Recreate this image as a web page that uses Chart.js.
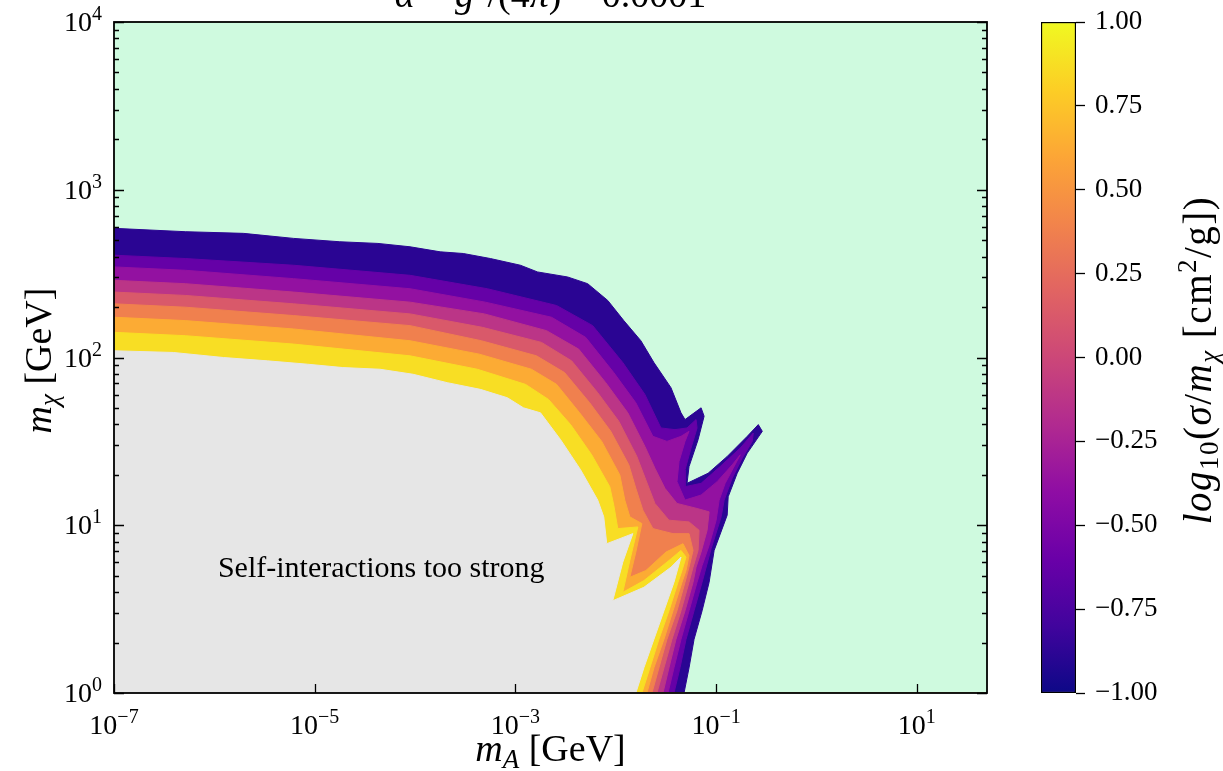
<!DOCTYPE html>
<html>
<head>
<meta charset="utf-8">
<script src="https://cdn.jsdelivr.net/npm/chart.js@4.4.1/dist/chart.umd.min.js"></script>
<style>
  html, body { margin: 0; padding: 0; background: #fff; }
  #wrap { position: relative; width: 1223px; height: 771px; overflow: hidden; }
  #main { position: absolute; left: 0; top: 0; }
  #cbar { position: absolute; left: 1000px; top: 0; }
</style>
</head>
<body>
<div id="wrap">
  <canvas id="main" width="1000" height="771"></canvas>
  <canvas id="cbar" width="223" height="771"></canvas>
</div>
<script>
// axis ranges and tick labels
const xRange = [1e-7, 50];          // m_A [GeV]
const yRange = [1, 1e4];            // m_chi [GeV]
const xTickExps = [-7, -5, -3, -1, 1];
const yTickExps = [0, 1, 2, 3, 4];
const cbarTicks = [-1, -0.75, -0.5, -0.25, 0, 0.25, 0.5, 0.75, 1];

// iso-lines of log10(sigma/m_chi) as [log10 mA, log10 mchi].
// each one runs from the left axis to the bottom axis; the area below/left of it
// is where sigma/m is larger than that level.
const isoM100 = [[-7.00,2.77],[-6.29,2.75],[-5.71,2.74],[-5.21,2.71],[-4.75,2.69],[-4.37,2.68],[-4.05,2.66],[-3.75,2.63],[-3.52,2.62],[-3.25,2.59],[-2.95,2.55],[-2.78,2.51],[-2.48,2.48],[-2.28,2.44],[-2.08,2.34],[-1.92,2.22],[-1.75,2.10],[-1.62,1.97],[-1.45,1.82],[-1.35,1.67],[-1.31,1.63],[-1.15,1.70],[-1.12,1.65],[-1.18,1.51],[-1.27,1.35],[-1.29,1.25],[-1.08,1.31],[-0.89,1.41],[-0.69,1.53],[-0.58,1.60],[-0.54,1.56],[-0.69,1.43],[-0.79,1.31],[-0.88,1.17],[-0.89,1.06],[-1.02,0.85],[-1.07,0.66],[-1.14,0.49],[-1.22,0.32],[-1.27,0.15],[-1.32,0.00]];
const isoM075 = [[-7.00,2.61],[-6.29,2.59],[-5.21,2.55],[-4.05,2.49],[-3.28,2.41],[-2.59,2.31],[-2.23,2.19],[-1.93,1.97],[-1.71,1.78],[-1.55,1.58],[-1.41,1.57],[-1.29,1.58],[-1.20,1.63],[-1.19,1.58],[-1.25,1.46],[-1.31,1.33],[-1.31,1.23],[-1.15,1.25],[-0.96,1.35],[-0.76,1.46],[-0.63,1.55],[-0.64,1.50],[-0.74,1.40],[-0.84,1.28],[-0.92,1.15],[-0.95,1.05],[-1.05,0.86],[-1.14,0.66],[-1.22,0.49],[-1.30,0.32],[-1.36,0.15],[-1.42,0.00]];
const isoM050 = [[-7.00,2.54],[-6.29,2.52],[-5.21,2.47],[-4.05,2.41],[-3.30,2.33],[-2.64,2.24],[-2.30,2.12],[-2.02,1.91],[-1.80,1.73],[-1.63,1.53],[-1.49,1.50],[-1.35,1.53],[-1.27,1.56],[-1.31,1.50],[-1.37,1.38],[-1.39,1.26],[-1.31,1.15],[-1.15,1.18],[-0.99,1.26],[-0.84,1.36],[-0.76,1.42],[-0.83,1.34],[-0.91,1.25],[-0.97,1.15],[-1.00,1.03],[-1.07,0.88],[-1.14,0.76],[-1.19,0.66],[-1.27,0.49],[-1.35,0.32],[-1.42,0.15],[-1.48,0.00]];
const isoM025 = [[-7.00,2.46],[-6.29,2.44],[-5.21,2.39],[-4.05,2.33],[-3.31,2.26],[-2.69,2.16],[-2.37,2.05],[-2.10,1.85],[-1.88,1.67],[-1.71,1.47],[-1.61,1.34],[-1.51,1.22],[-1.39,1.13],[-1.19,1.10],[-1.07,1.08],[-1.09,0.97],[-1.15,0.84],[-1.20,0.75],[-1.23,0.66],[-1.31,0.49],[-1.40,0.32],[-1.47,0.15],[-1.53,0.00]];
const isoZero = [[-7.00,2.39],[-6.29,2.37],[-5.21,2.32],[-4.05,2.26],[-3.33,2.18],[-2.74,2.09],[-2.44,1.98],[-2.18,1.79],[-1.97,1.62],[-1.79,1.41],[-1.70,1.27],[-1.61,1.13],[-1.47,1.03],[-1.27,1.02],[-1.17,0.97],[-1.18,0.85],[-1.23,0.75],[-1.27,0.66],[-1.35,0.49],[-1.44,0.32],[-1.52,0.15],[-1.59,0.00]];
const isoP025 = [[-7.00,2.32],[-6.29,2.30],[-5.21,2.25],[-4.05,2.19],[-3.34,2.10],[-2.79,2.01],[-2.51,1.91],[-2.26,1.73],[-2.05,1.56],[-1.87,1.36],[-1.80,1.22],[-1.73,1.09],[-1.63,0.98],[-1.43,0.95],[-1.27,0.95],[-1.23,0.85],[-1.27,0.75],[-1.31,0.66],[-1.39,0.49],[-1.49,0.32],[-1.57,0.15],[-1.64,0.00]];
const isoP050 = [[-7.00,2.24],[-6.29,2.22],[-5.21,2.17],[-4.05,2.10],[-3.36,2.02],[-2.84,1.93],[-2.59,1.84],[-2.36,1.67],[-2.14,1.50],[-1.96,1.30],[-1.91,1.15],[-1.86,1.05],[-1.74,1.01],[-1.80,0.84],[-1.86,0.69],[-1.70,0.73],[-1.50,0.84],[-1.33,0.89],[-1.27,0.82],[-1.30,0.73],[-1.34,0.66],[-1.43,0.49],[-1.52,0.32],[-1.62,0.15],[-1.69,0.00]];
const isoP075 = [[-7.00,2.15],[-6.29,2.13],[-5.21,2.08],[-4.05,2.01],[-3.38,1.93],[-2.90,1.84],[-2.67,1.75],[-2.45,1.60],[-2.24,1.42],[-2.06,1.23],[-2.02,1.12],[-1.98,0.98],[-1.78,0.99],[-1.86,0.79],[-1.93,0.60],[-1.72,0.67],[-1.47,0.79],[-1.35,0.85],[-1.30,0.81],[-1.34,0.73],[-1.38,0.66],[-1.47,0.49],[-1.57,0.32],[-1.66,0.15],[-1.74,0.00]];
// sigma/m above 10 cm^2/g: the grey "too strong" region
const isoP100 = [[-7.00,2.04],[-6.41,2.03],[-5.91,2.00],[-5.47,1.98],[-5.07,1.96],[-4.72,1.94],[-4.35,1.93],[-4.02,1.90],[-3.68,1.85],[-3.35,1.81],[-3.08,1.76],[-2.92,1.70],[-2.75,1.67],[-2.55,1.51],[-2.35,1.33],[-2.18,1.15],[-2.12,1.05],[-2.09,0.89],[-1.83,0.95],[-1.93,0.78],[-2.03,0.55],[-1.72,0.63],[-1.45,0.75],[-1.35,0.81],[-1.42,0.66],[-1.52,0.49],[-1.62,0.32],[-1.72,0.15],[-1.80,0.00]];

const regionNote = { text: 'Self-interactions too strong', x: 4.6e-5, y: 4.9 };

// colours
const GREEN = '#cffadf';
const GREY = '#e6e6e6';
const PLASMA = ['#0d0887', '#41049d', '#6a00a8', '#8f0da4', '#b12a90', '#cc4778',
                '#e16462', '#f2844b', '#fca636', '#fcce25', '#f0f921'];
// fill for each level, i.e. plasma at the middle of the step above it
const levelFills = ['#2a0593', '#6501a7', '#9311a1', '#bb3587', '#d9596a', '#f0804e', '#fcab34', '#f8de24', GREY];

const SERIF = '"Liberation Serif", "DejaVu Serif", serif';
const roman = s => `${s}px ${SERIF}`;
const italic = s => `italic ${s}px ${SERIF}`;

function drawRuns(ctx, runs, x, y, align) {
  let total = 0;
  runs.forEach(r => { ctx.font = r.f; total += ctx.measureText(r.t).width; });
  let cx = align === 'center' ? x - total / 2 : align === 'right' ? x - total : x;
  ctx.textAlign = 'left';
  ctx.textBaseline = 'alphabetic';
  runs.forEach(r => {
    ctx.font = r.f;
    ctx.fillText(r.t, cx, y + (r.dy || 0));
    cx += ctx.measureText(r.t).width;
  });
}

function powRuns(e) {
  return [{ t: '10', f: roman(28) }, { t: e < 0 ? '\u2212' + (-e) : String(e), f: roman(20), dy: -11 }];
}

// build polygons: bottom-left corner -> iso-line -> bottom-right corner
const isoLines = [isoM100, isoM075, isoM050, isoM025, isoZero, isoP025, isoP050, isoP075, isoP100];
const datasets = isoLines.map((line, i) => ({
  data: [{ x: xRange[0], y: yRange[0] }]
    .concat(line.map(([a, b]) => ({ x: 10 ** a, y: 10 ** b })))
    .concat([{ x: xRange[1], y: yRange[0] }]),
  backgroundColor: levelFills[i],
  borderColor: levelFills[i],
  borderWidth: 1,
  fill: 'shape',
  pointRadius: 0,
  tension: 0
})).reverse(); // first dataset is drawn last, so the grey one goes first

const backdrop = {
  id: 'backdrop',
  beforeDatasetsDraw(chart) {
    const { ctx, chartArea: a } = chart;
    ctx.save();
    ctx.fillStyle = GREEN;
    ctx.fillRect(a.left, a.top, a.right - a.left, a.bottom - a.top);
    ctx.restore();
  }
};

const frame = {
  id: 'frame',
  afterDraw(chart) {
    const { ctx, chartArea: a, scales: { x, y } } = chart;
    ctx.save();
    ctx.strokeStyle = '#000';
    ctx.fillStyle = '#000';
    ctx.lineWidth = 1.3;
    ctx.beginPath();
    // minor y ticks on both sides
    for (let e = yTickExps[0]; e < yTickExps[yTickExps.length - 1]; e++) {
      for (let k = 2; k <= 9; k++) {
        const py = Math.round(y.getPixelForValue(k * 10 ** e)) + 0.5;
        ctx.moveTo(a.left, py); ctx.lineTo(a.left + 5, py);
        ctx.moveTo(a.right, py); ctx.lineTo(a.right - 5, py);
      }
    }
    yTickExps.forEach(e => {
      const py = Math.round(y.getPixelForValue(10 ** e)) + 0.5;
      ctx.moveTo(a.left, py); ctx.lineTo(a.left + 10, py);
      ctx.moveTo(a.right, py); ctx.lineTo(a.right - 10, py);
    });
    xTickExps.forEach(e => {
      const px = Math.round(x.getPixelForValue(10 ** e)) + 0.5;
      ctx.moveTo(px, a.bottom); ctx.lineTo(px, a.bottom - 9);
    });
    ctx.stroke();
    ctx.lineWidth = 1.8;
    ctx.strokeRect(a.left, a.top, a.right - a.left, a.bottom - a.top);

    // tick labels
    yTickExps.forEach(e => drawRuns(ctx, powRuns(e), a.left - 12, y.getPixelForValue(10 ** e) + 9, 'right'));
    xTickExps.forEach(e => drawRuns(ctx, powRuns(e), x.getPixelForValue(10 ** e), a.bottom + 41, 'center'));

    // axis titles
    const cx = (a.left + a.right) / 2;
    drawRuns(ctx, [{ t: 'm', f: italic(38) }, { t: 'A', f: italic(27), dy: 7 }, { t: ' [GeV]', f: roman(38) }], cx, 761, 'center');
    ctx.save();
    ctx.translate(51, (a.top + a.bottom) / 2 + 3);
    ctx.rotate(-Math.PI / 2);
    drawRuns(ctx, [{ t: 'm', f: italic(38) }, { t: '\u03c7', f: italic(27), dy: 7 }, { t: ' [GeV]', f: roman(38) }], 0, 0, 'center');
    ctx.restore();

    // title, mostly above the top of the picture
    drawRuns(ctx, [
      { t: '\u03b1', f: italic(38) }, { t: ' = ', f: roman(38) }, { t: 'g', f: italic(38) },
      { t: '2', f: roman(27), dy: -14 }, { t: '/(4', f: roman(38) }, { t: '\u03c0', f: italic(38) },
      { t: ') = 0.0001', f: roman(38) }
    ], cx, 7, 'center');

    // region note
    drawRuns(ctx, [{ t: regionNote.text, f: roman(30) }],
      x.getPixelForValue(regionNote.x), y.getPixelForValue(regionNote.y), 'center');
    ctx.restore();
  }
};

new Chart(document.getElementById('main'), {
  type: 'line',
  data: { datasets },
  options: {
    responsive: false,
    animation: false,
    events: [],
    layout: { padding: { left: 114, right: 13, top: 22, bottom: 78 } },
    plugins: { legend: { display: false }, tooltip: { enabled: false } },
    scales: {
      x: { type: 'logarithmic', min: xRange[0], max: xRange[1], display: false },
      y: { type: 'logarithmic', min: yRange[0], max: yRange[1], display: false }
    }
  },
  plugins: [backdrop, frame]
});

// colour bar
function plasmaGradient(chart) {
  const a = chart.chartArea;
  if (!a) return PLASMA[5];
  const g = chart.ctx.createLinearGradient(0, a.bottom, 0, a.top);
  PLASMA.forEach((c, i) => g.addColorStop(i / (PLASMA.length - 1), c));
  return g;
}

const cbarTitle = {
  id: 'cbarTitle',
  afterDraw(chart) {
    const ctx = chart.ctx;
    ctx.save();
    ctx.fillStyle = '#000';
    ctx.letterSpacing = '1.5px';
    ctx.translate(211, 360);
    ctx.rotate(-Math.PI / 2);
    drawRuns(ctx, [
      { t: 'log', f: italic(39) }, { t: '10', f: roman(27), dy: 7 }, { t: '(', f: roman(39) },
      { t: '\u03c3', f: italic(39) }, { t: '/', f: roman(39) }, { t: 'm', f: italic(39) },
      { t: '\u03c7', f: italic(27), dy: 7 }, { t: ' [cm', f: roman(39) }, { t: '2', f: roman(27), dy: -15 },
      { t: '/g])', f: roman(39) }
    ], 0, 0, 'center');
    ctx.restore();
  }
};

new Chart(document.getElementById('cbar'), {
  type: 'bar',
  data: {
    labels: [''],
    datasets: [{
      data: [[cbarTicks[0], cbarTicks[cbarTicks.length - 1]]],
      backgroundColor: c => plasmaGradient(c.chart),
      borderColor: '#000',
      borderWidth: 1.5,
      borderSkipped: false,
      barPercentage: 1,
      categoryPercentage: 1
    }]
  },
  options: {
    responsive: false,
    animation: false,
    events: [],
    layout: { padding: { left: 41, right: 0, top: 22, bottom: 78 } },
    plugins: { legend: { display: false }, tooltip: { enabled: false } },
    scales: {
      x: { display: false },
      y: {
        position: 'right',
        min: cbarTicks[0],
        max: cbarTicks[cbarTicks.length - 1],
        afterFit: s => { s.width = 147; s.paddingTop = 0; s.paddingBottom = 0; },
        afterBuildTicks: s => { s.ticks = cbarTicks.map(v => ({ value: v })); },
        ticks: {
          callback: v => (v < 0 ? '\u2212' : '') + Math.abs(v).toFixed(2),
          font: { family: SERIF, size: 27 },
          color: '#000',
          padding: 10
        },
        grid: { drawOnChartArea: false, tickLength: 9, tickColor: '#000', tickWidth: 1.3 },
        border: { display: false }
      }
    }
  },
  plugins: [cbarTitle]
});
</script>
</body>
</html>
